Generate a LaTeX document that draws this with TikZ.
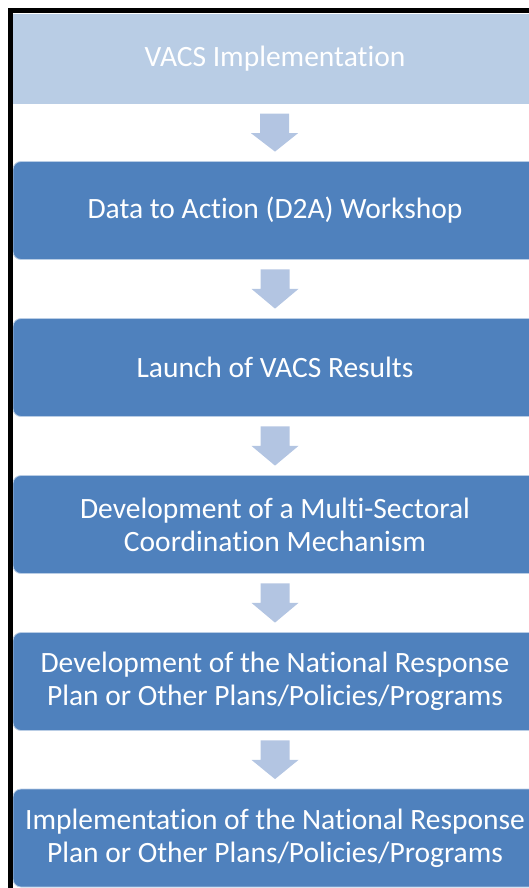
\documentclass[tikz,border=0pt]{standalone}
\usepackage{fontspec}
\setmainfont{Carlito}[Ligatures=NoCommon]
\usetikzlibrary{positioning,calc}

\definecolor{stepblue}{HTML}{4F81BD}
\definecolor{toplight}{HTML}{B9CDE5}
\definecolor{arrowlight}{HTML}{B3C5E2}

% block arrow pointing down between two boxes
\newcommand{\blockarrow}[2]{%
  \fill[arrowlight] ($(#1.south)+(-14.5,9.5)$) -- ($(#1.south)+(14.5,9.5)$)
    -- ($(#1.south)+(14.5,29)$) -- ($(#1.south)+(23.5,29)$)
    -- ($(#2.north)+(0,-9.5)$)
    -- ($(#1.south)+(-23.5,29)$) -- ($(#1.south)+(-14.5,29)$) -- cycle;}

\begin{document}
\begin{tikzpicture}[
    x=1pt, y=-1pt,
    font=\fontsize{29.5}{33}\selectfont,
    stepbox/.style={rectangle, rounded corners=8pt, fill=stepblue, draw=toplight, line width=0.8pt,
        text=white, align=center, minimum width=524pt, minimum height=98pt, inner sep=0pt},
    topbox/.style={rectangle, fill=toplight, text=white, align=center,
        minimum width=524pt, minimum height=90pt, inner sep=0pt}
]
    \useasboundingbox (0,0) rectangle (529,888);
    \clip (0,0) rectangle (529,888);

    % Top
    \node[topbox] (vacs) at (275,59) {VACS Implementation};

    % Steps
    \node[stepbox] (d2a) at (275,210.5) {Data to Action (D2A) Workshop};
    \node[stepbox] (launch) at (275,367.5) {Launch of VACS Results};
    \node[stepbox] (coord) at (275,524.5) {Development of a Multi-Sectoral\\Coordination Mechanism};
    \node[stepbox] (plan) at (275,681.5) {Development of the National Response\\Plan or Other Plans/Policies/Programs};
    \node[stepbox] (impl) at (275,838) {Implementation of the National Response\\Plan or Other Plans/Policies/Programs};

    % Arrows
    \node[inner sep=0pt, minimum size=0pt] (vacsb) at (274.5,104) {};
    \blockarrow{vacsb}{d2a}
    \blockarrow{d2a}{launch}
    \blockarrow{launch}{coord}
    \blockarrow{coord}{plan}
    \blockarrow{plan}{impl}

    % Frame
    \draw[line width=5pt] (10.5,900) -- (10.5,10.5) -- (540,10.5);
\end{tikzpicture}
\end{document}
